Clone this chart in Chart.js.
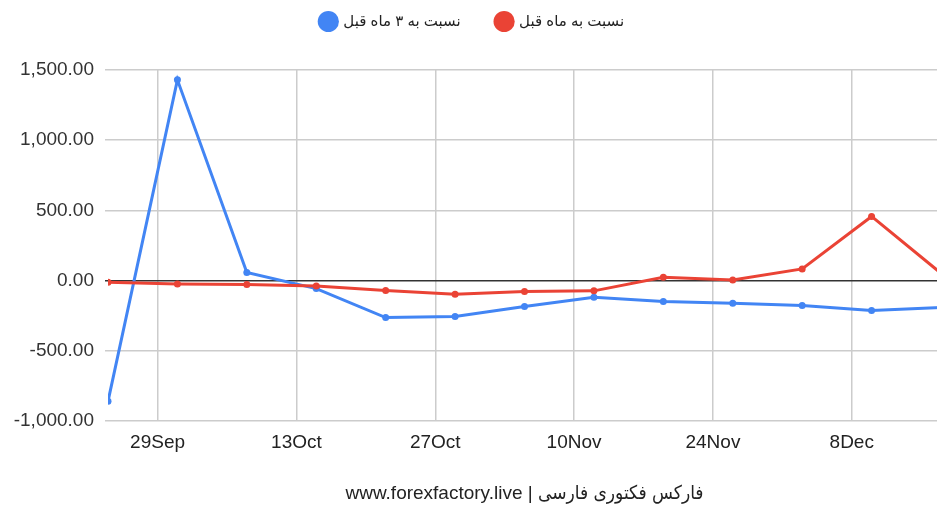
<!DOCTYPE html>
<html>
<head>
<meta charset="utf-8">
<script src="https://cdn.jsdelivr.net/npm/chart.js@4.4.1/dist/chart.umd.min.js"></script>
<style>
  html, body { margin: 0; padding: 0; background: #fff; overflow: hidden; }
  #wrap { width: 945px; height: 506px; position: relative; }
</style>
</head>
<body>
<div id="wrap"><canvas id="grafico"></canvas></div>
<script>
// days counted from 29 Sep
const pointDays = [-5, 2, 9, 16, 23, 30, 37, 44, 51, 58, 65, 72, 79];
const tickDays = [0, 14, 28, 42, 56, 70];
const tickLabels = ["29Sep", "13Oct", "27Oct", "10Nov", "24Nov", "8Dec"];

const serie3Meses = [-860, 1430, 58, -57, -263, -256, -185, -119, -149, -161, -178, -213, -192];
const serieMes = [-12, -24, -28, -38, -71, -97, -78, -73, 23, 5, 83, 457, 52];

const label3Meses = "نسبت به ۳ ماه قبل";
const labelMes = "نسبت به ماه قبل";
const tituloAbajo = "www.forexfactory.live | فارکس فکتوری فارسی";

const fuente = "Arial, 'Liberation Sans', 'DejaVu Sans', sans-serif";
const fuenteTitulo = "Arial, 'Liberation Sans', 'DejaVu Sans Condensed', sans-serif";

const ctx = document.getElementById("grafico").getContext("2d");

// leave room under the legend
const legendaAlta = {
  id: "legendaAlta",
  beforeInit(chart) {
    const fitOrig = chart.legend.fit;
    chart.legend.fit = function () {
      fitOrig.bind(chart.legend)();
      this.height += 31;
    };
  }
};

new Chart(ctx, {
  type: "line",
  data: {
    datasets: [
      {
        label: labelMes,
        data: pointDays.map((d, i) => ({ x: d, y: serieMes[i] })),
        borderColor: "#ea4335",
        backgroundColor: "#ea4335",
        borderWidth: 3,
        pointRadius: 3.5,
        pointBorderWidth: 0,
        tension: 0
      },
      {
        label: label3Meses,
        data: pointDays.map((d, i) => ({ x: d, y: serie3Meses[i] })),
        borderColor: "#4285f4",
        backgroundColor: "#4285f4",
        borderWidth: 3,
        pointRadius: 3.5,
        pointBorderWidth: 0,
        tension: 0
      }
    ]
  },
  plugins: [legendaAlta],
  options: {
    responsive: true,
    maintainAspectRatio: false,
    devicePixelRatio: 1,
    animation: false,
    layout: { padding: { top: -22, right: 0, left: 0, bottom: 0 } },
    plugins: {
      legend: {
        position: "top",
        reverse: true,
        labels: {
          usePointStyle: true,
          pointStyle: "circle",
          color: "#222",
          padding: 36,
          font: { family: fuente, size: 15 }
        }
      },
      title: { display: false },
      tooltip: { enabled: false }
    },
    scales: {
      x: {
        type: "linear",
        min: -5,
        max: 79,
        afterBuildTicks: (scale) => {
          scale.ticks = tickDays.map(v => ({ value: v }));
        },
        afterFit: (scale) => { scale.height = 85; },
        grid: { color: "#cccccc", lineWidth: 1.5, drawTicks: false },
        border: { display: false },
        title: {
          display: true,
          text: tituloAbajo,
          color: "#222",
          font: { family: fuenteTitulo, size: 19 },
          padding: { top: 0, bottom: 1 }
        },
        ticks: {
          padding: 10,
          color: "#222",
          maxRotation: 0,
          autoSkip: false,
          font: { family: fuente, size: 19 },
          callback: (value) => {
            const i = tickDays.indexOf(value);
            return i >= 0 ? tickLabels[i] : "";
          }
        }
      },
      y: {
        min: -1000,
        max: 1500,
        afterFit: (scale) => { scale.width = 108; },
        grid: {
          color: (c) => (c.tick && c.tick.value === 0 ? "#333333" : "#cccccc"),
          lineWidth: 1.5,
          tickLength: 3
        },
        border: { display: false },
        ticks: {
          stepSize: 500,
          padding: 11,
          color: "#333",
          font: { family: fuente, size: 19 },
          callback: (value) => value.toLocaleString("en-US", { minimumFractionDigits: 2, maximumFractionDigits: 2 })
        }
      }
    }
  }
});
</script>
</body>
</html>
